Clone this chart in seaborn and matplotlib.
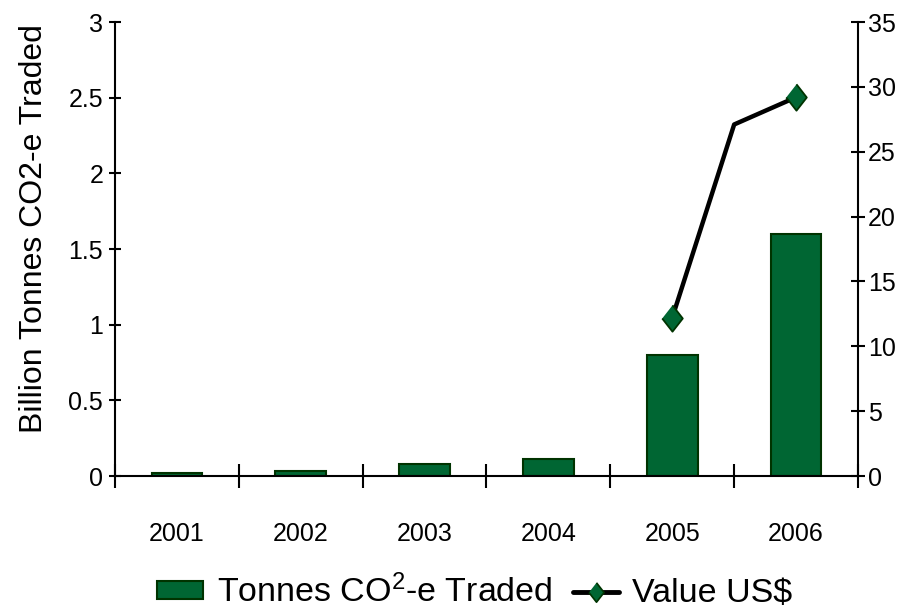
import matplotlib
matplotlib.use("Agg")
import matplotlib.pyplot as plt
from matplotlib.lines import Line2D
from matplotlib.patches import Patch
import seaborn as sns
import pandas as pd

# Annual carbon market volumes and value
years = ["2001", "2002", "2003", "2004", "2005", "2006"]
tonnes_traded = [0.02, 0.03, 0.08, 0.11, 0.80, 1.60]   # billion tonnes CO2-e
value_years = [2005, 2005.5, 2006]
value_usd = [12.2, 27.1, 29.2]                          # US$ billions
marked_points = [0, 2]

left_ticks = [0, 0.5, 1, 1.5, 2, 2.5, 3]
left_ticklabels = ["0", "0.5", "1", "1.5", "2", "2.5", "3"]
right_ticks = [0, 5, 10, 15, 20, 25, 30, 35]

bar_label = r"Tonnes CO$^{\mathregular{2}}$-e Traded"
line_label = "Value US$"
y_title = "Billion Tonnes CO2-e Traded"

GREEN = "#006633"
DARK = "#003300"

sns.set_theme(style="white")
plt.rcParams["font.family"] = ["Liberation Sans", "DejaVu Sans"]
plt.rcParams["mathtext.fontset"] = "custom"
plt.rcParams["mathtext.rm"] = "Liberation Sans"
plt.rcParams["mathtext.it"] = "Liberation Sans"

W, H = 911, 609
fig = plt.figure(figsize=(W / 100, H / 100), dpi=100)
ax = fig.add_axes([115 / W, 1 - 476 / H, (858 - 115) / W, (476 - 22) / H])

df = pd.DataFrame({"year": years, "tonnes": tonnes_traded})
sns.barplot(data=df, x="year", y="tonnes", order=years, color=GREEN,
            saturation=1, width=0.41, edgecolor=DARK, linewidth=1.5, ax=ax)

ax.set_xlim(-0.5, len(years) - 0.5)
ax.set_ylim(0, 3)
ax.set_xlabel("")
ax.set_ylabel("")

# category boundaries carry the tick marks, centres carry the labels
ax.set_xticks([i - 0.5 for i in range(len(years) + 1)])
ax.set_xticklabels([])
ax.set_xticks(range(len(years)), minor=True)
ax.set_xticklabels(years, minor=True)
ax.tick_params(axis="x", which="major", direction="inout", length=17, width=1.5,
               color="black", bottom=True)
ax.tick_params(axis="x", which="minor", length=0, pad=33, labelsize=18,
               labelcolor="black", bottom=True)

ax.set_yticks(left_ticks)
ax.set_yticklabels(left_ticklabels)
ax.tick_params(axis="y", direction="inout", length=9, width=1.5, color="black",
               pad=4, labelsize=18, labelcolor="black", left=True)

for side in ["top", "right"]:
    ax.spines[side].set_visible(False)
for side in ["left", "bottom"]:
    ax.spines[side].set_color("black")
    ax.spines[side].set_linewidth(1.5)
ax.grid(False)

# secondary axis for the traded value
ax2 = ax.twinx()
diamond = [(0, 1), (0.78, 0), (0, -1), (-0.78, 0)]
vx = [y - int(years[0]) for y in value_years]
sns.lineplot(x=vx, y=value_usd, ax=ax2, color="black", linewidth=3.2,
             sort=False, estimator=None, marker=diamond, markersize=19,
             markerfacecolor=GREEN, markeredgecolor=DARK, markeredgewidth=1.3,
             markevery=marked_points)
ax2.set_ylim(0, 35)
ax2.set_yticks(right_ticks)
ax2.set_yticklabels([str(t) for t in right_ticks])
ax2.tick_params(axis="y", direction="inout", length=10, width=1.5, color="black",
                pad=2, labelsize=18, labelcolor="black", right=True)
for side in ["top", "left", "bottom"]:
    ax2.spines[side].set_visible(False)
ax2.spines["right"].set_color("black")
ax2.spines["right"].set_linewidth(1.5)
ax2.set_ylabel("")
ax2.grid(False)
ax2.set_xlim(-0.5, len(years) - 0.5)

fig.text(34 / W, 1 - 229 / H, y_title, rotation=90, ha="center", va="center",
         fontsize=23, color="black")

handles = [
    Patch(facecolor=GREEN, edgecolor=DARK, linewidth=1.5),
    Line2D([0], [0], color="black", linewidth=3.5, marker=diamond, markersize=14,
           markerfacecolor=GREEN, markeredgecolor=DARK, markeredgewidth=1.2),
]
fig.legend(handles, [bar_label, line_label], loc="center",
           bbox_to_anchor=(475 / W, 1 - 592 / H), ncol=2, frameon=False,
           fontsize=24.5, handlelength=1.35, handleheight=0.42, handletextpad=0.4,
           columnspacing=0.6, labelcolor="black")

fig.savefig("out.png", dpi=100)
